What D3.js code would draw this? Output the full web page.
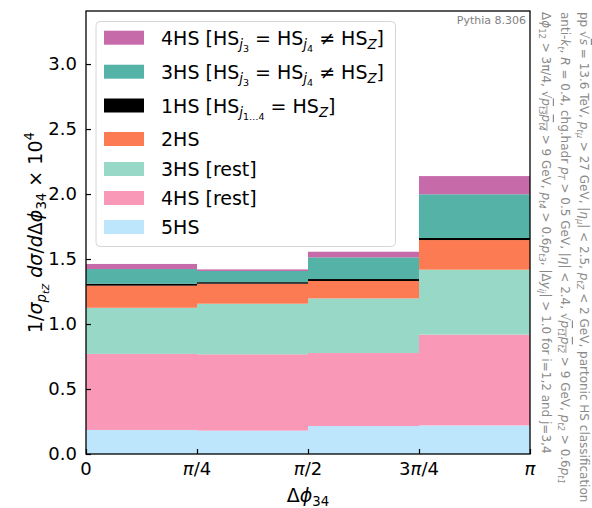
<!DOCTYPE html>
<html><head><meta charset="utf-8">
<script src="https://cdn.jsdelivr.net/npm/d3@7"></script>
<style>body{margin:0;background:#fff}svg{display:block;font-family:"DejaVu Sans",sans-serif}</style>
</head><body><svg id="c" width="592" height="508"></svg>
<script>
// ---- data ----
const binEdges = [0, Math.PI/4, Math.PI/2, 3*Math.PI/4, Math.PI];
const xTickVals = [0, Math.PI/4, Math.PI/2, 3*Math.PI/4, Math.PI];
const xTickLabels = [["0"], ["π","/4"], ["π","/2"], ["3","π","/4"], ["π"]];
const yTicks = [0, 0.5, 1.0, 1.5, 2.0, 2.5, 3.0];
// stack order bottom -> top
const seriesNames = ["5HS", "4HS [rest]", "3HS [rest]", "2HS", "1HS", "3HS [=]", "4HS [=]"];
const s5HS      = [0.185, 0.180, 0.215, 0.220];
const s4HSrest  = [0.585, 0.587, 0.562, 0.698];
const s3HSrest  = [0.355, 0.389, 0.420, 0.500];
const s2HS      = [0.170, 0.154, 0.134, 0.228];
const s1HS      = [0.015, 0.012, 0.015, 0.016];
const s3HSeq    = [0.113, 0.086, 0.167, 0.336];
const s4HSeq    = [0.039, 0.012, 0.043, 0.140];
const seriesVals = [s5HS, s4HSrest, s3HSrest, s2HS, s1HS, s3HSeq, s4HSeq];
const colors = ["#bde5fc", "#f999b7", "#98d8c7", "#fc7b52", "#000000", "#54b3a6", "#c76aaa"];

const svg = d3.select("#c");
const L = 86, R = 530, T = 11, B = 454;
const x = d3.scaleLinear().domain([0, Math.PI]).range([L, R]);
const y = d3.scaleLinear().domain([0, 3.408]).range([B, T]);

// rich text helper: segs = [text, level, italic, overline]
function rich(sel, segs, fs) {
  const off = {0:0, "-1":0.22, "-2":0.38, 1:-0.4};
  const sz = {0:1, "-1":0.7, "-2":0.5, 1:0.7};
  let cur = 0;
  segs.forEach(([t, lv, it, extra]) => {
    const o = off[lv]*fs;
    const sp = sel.append("tspan").text(t)
      .attr("dy", o - cur).attr("font-size", sz[lv]*fs)
      .attr("font-style", it ? "italic" : "normal");
    if (extra) sp.attr("text-decoration", "overline");
    cur = o;
  });
}

// bars
const stackBase = [0,0,0,0];
seriesVals.forEach((vals, si) => {
  vals.forEach((v, bi) => {
    const y0 = stackBase[bi], y1 = y0 + v;
    svg.append("rect")
      .attr("x", x(binEdges[bi])).attr("width", x(binEdges[bi+1]) - x(binEdges[bi]))
      .attr("y", y(y1)).attr("height", y(y0) - y(y1))
      .attr("fill", colors[si]);
    stackBase[bi] = y1;
  });
});

// axes frame
svg.append("rect").attr("x", L).attr("y", T).attr("width", R-L).attr("height", B-T)
  .attr("fill", "none").attr("stroke", "#000").attr("stroke-width", 1.3);

// y axis
const yAx = svg.append("g").attr("transform", `translate(${L},0)`)
  .call(d3.axisLeft(y).tickValues(yTicks).tickSize(-5).tickPadding(9).tickFormat(d3.format(".1f")));
yAx.select(".domain").remove();
yAx.selectAll("line").attr("stroke-width", 1.2);
yAx.selectAll("text").attr("font-size", 18).attr("font-family", "DejaVu Sans").attr("fill", "#000");

// x axis
const xAx = svg.append("g").attr("transform", `translate(0,${B})`)
  .call(d3.axisBottom(x).tickValues(xTickVals).tickSize(-5).tickPadding(9).tickFormat(""));
xAx.select(".domain").remove();
xAx.selectAll("line").attr("stroke-width", 1.2);
xTickVals.forEach((v, i) => {
  const t = svg.append("text").attr("x", x(v)).attr("y", B + 21).attr("text-anchor", "middle")
    .attr("font-size", 18).attr("fill", "#000");
  xTickLabels[i].forEach(p => t.append("tspan").text(p).attr("font-style", p === "π" ? "italic" : "normal"));
});

// x label
const xl = svg.append("text").attr("x", x(Math.PI/2)).attr("y", 502).attr("text-anchor", "middle").attr("font-size", 19);
rich(xl, [["Δ",0,false],["ϕ",0,true],["34",-1,false]], 19);

// y label
const yl = svg.append("text").attr("transform", `translate(42,${(T+B)/2}) rotate(-90)`)
  .attr("text-anchor", "middle").attr("font-size", 19);
rich(yl, [["1/",0,false],["σ",0,true],["p",-1,true],["tZ",-2,true],[" d",0,true],["σ",0,true],["/",0,false],["d",0,true],["Δ",0,false],["ϕ",0,true],["34",-1,false],[" × 10",0,false],["4",1,false]], 19);

// Pythia label
svg.append("text").attr("x", 526).attr("y", 24).attr("text-anchor", "end")
  .attr("font-size", 11).attr("fill", "#808080").text("Pythia 8.306");

// legend
const legG = svg.append("g");
legG.append("rect").attr("x", 96).attr("y", 21.5).attr("width", 299.5).attr("height", 225)
  .attr("rx", 4).attr("fill", "#fff").attr("fill-opacity", 0.85).attr("stroke", "#d6d6d6").attr("stroke-width", 1);
const legItems = [
  {ci: 6, cy: 37.7, segs: [["4HS [HS",0,false],["j",-1,true],["3",-2,false],[" = HS",0,false],["j",-1,true],["4",-2,false],[" ≠ HS",0,false],["Z",-1,true],["]",0,false]]},
  {ci: 5, cy: 71.7, segs: [["3HS [HS",0,false],["j",-1,true],["3",-2,false],[" = HS",0,false],["j",-1,true],["4",-2,false],[" ≠ HS",0,false],["Z",-1,true],["]",0,false]]},
  {ci: 4, cy: 105.5, segs: [["1HS [HS",0,false],["j",-1,true],["1…4",-2,false],[" = HS",0,false],["Z",-1,true],["]",0,false]]},
  {ci: 3, cy: 139, segs: [["2HS",0,false]]},
  {ci: 2, cy: 169, segs: [["3HS [rest]",0,false]]},
  {ci: 1, cy: 198, segs: [["4HS [rest]",0,false]]},
  {ci: 0, cy: 227, segs: [["5HS",0,false]]}
];
legItems.forEach(it => {
  legG.append("rect").attr("x", 104).attr("y", it.cy - 7).attr("width", 40).attr("height", 14).attr("fill", colors[it.ci]);
  const t = legG.append("text").attr("x", 161).attr("y", it.cy + 7).attr("font-size", 19).attr("fill", "#000");
  rich(t, it.segs, 19);
});

// right annotation (rotated)
const annLines = [
  [["pp ",0,false],["√",0,false],["s",0,true,true],[" = 13.6 TeV, ",0,false],["p",0,true],["tμ",-1,true],[" > 27 GeV, |",0,false],["η",0,true],["μ",-1,true],["| < 2.5, ",0,false],["p",0,true],["tZ",-1,true],[" < 2 GeV, partonic HS classification",0,false]],
  [["anti-",0,false],["k",0,true],["t",-1,true],[", ",0,false],["R",0,true],[" = 0.4, chg.hadr ",0,false],["p",0,true],["T",-1,true],[" > 0.5 GeV, |",0,false],["η",0,true],["| < 2.4, ",0,false],["√",0,false],["p",0,true,true],["t1",-1,true,true],["p",0,true,true],["t2",-1,true,true],[" > 9 GeV, ",0,false],["p",0,true],["t2",-1,true],[" > 0.6",0,false],["p",0,true],["t1",-1,true]],
  [["Δ",0,false],["ϕ",0,true],["12",-1,false],[" > 3π/4, ",0,false],["√",0,false],["p",0,true,true],["t3",-1,true,true],["p",0,true,true],["t4",-1,true,true],[" > 9 GeV, ",0,false],["p",0,true],["t4",-1,true],[" > 0.6",0,false],["p",0,true],["t3",-1,true],[", |Δ",0,false],["y",0,true],["ij",-1,true],["| > 1.0 for i=1,2 and j=3,4",0,false]]
];
const annX = [580, 561, 542];
annLines.forEach((segs, i) => {
  const t = svg.append("text").attr("transform", `translate(${annX[i]},12) rotate(90)`)
    .attr("font-size", 12).attr("fill", "#8a8a8a");
  rich(t, segs, 12);
});
</script></body></html>
